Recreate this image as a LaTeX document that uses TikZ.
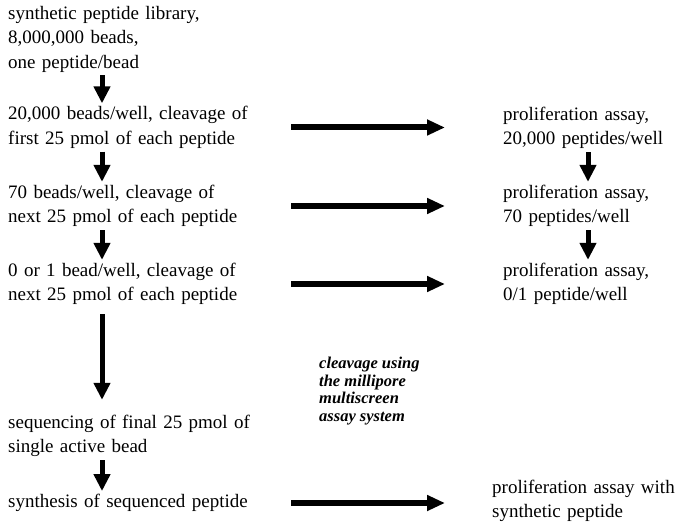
\documentclass[tikz,border=0pt]{standalone}
\usepackage{fontspec}
\setmainfont{Liberation Serif}
\usetikzlibrary{arrows.meta}
\begin{document}
\begin{tikzpicture}[x=1pt,y=-1pt,
  lbox/.style={anchor=west,align=left,text width=260pt,inner xsep=0pt,inner ysep=3pt,font=\fontsize{19}{24.5}\selectfont},
  rbox/.style={anchor=west,align=left,text width=190pt,inner xsep=0pt,inner ysep=3pt,font=\fontsize{19}{24.5}\selectfont},
  note/.style={anchor=west,align=left,inner sep=0pt,font=\fontsize{16.5}{17.8}\selectfont\bfseries\itshape},
  varrow/.style={line width=5pt,-{Triangle[length=17pt,width=16pt]}},
  harrow/.style={line width=6pt,-{Triangle[length=18pt,width=15pt]}}]
\useasboundingbox (0,0) rectangle (690,526);
\coordinate (ax) at (102,0);
\coordinate (rx) at (588,0);
\node[lbox] (b1) at (8,39) {synthetic peptide library,\\8,000,000 beads,\\one peptide/bead};
\node[lbox] (b2) at (8,127.5) {20,000 beads/well, cleavage of\\first 25 pmol of each peptide};
\node[lbox] (b3) at (8,206) {70 beads/well, cleavage of\\next 25 pmol of each peptide};
\node[lbox] (b4) at (8,284) {0 or 1 bead/well, cleavage of\\next 25 pmol of each peptide};
\node[lbox] (b5) at (8,436) {sequencing of final 25 pmol of\\single active bead};
\node[lbox] (b6) at (8,503) {synthesis of sequenced peptide};
\node[rbox] (r1) at (503,128) {proliferation assay,\\20,000 peptides/well};
\node[rbox] (r2) at (503,206) {proliferation assay,\\70 peptides/well};
\node[rbox] (r3) at (503,284) {proliferation assay,\\0/1 peptide/well};
\node[rbox] (r4) at (492,501) {proliferation assay with\\synthetic peptide};
\node[note] (n) at (319,391) {cleavage using\\the millipore\\multiscreen\\assay system};
\draw[varrow] (b1.south -| ax) -- (b2.north -| ax);
\draw[varrow] (b2.south -| ax) -- (b3.north -| ax);
\draw[varrow] (b3.south -| ax) -- (b4.north -| ax);
\draw[varrow,shorten <=6pt,shorten >=12pt] (b4.south -| ax) -- (b5.north -| ax);
\draw[varrow] (b5.south -| ax) -- (b6.north -| ax);
\draw[varrow] (r1.south -| rx) -- (r2.north -| rx);
\draw[varrow] (r2.south -| rx) -- (r3.north -| rx);
\draw[harrow,shorten <=23pt,shorten >=58pt] (b2.east) -- (b2.east -| r1.west);
\draw[harrow,shorten <=23pt,shorten >=58pt] (b3.east) -- (b3.east -| r2.west);
\draw[harrow,shorten <=23pt,shorten >=58pt] (b4.east) -- (b4.east -| r3.west);
\draw[harrow,shorten <=23pt,shorten >=47pt] (b6.east) -- (b6.east -| r4.west);
\end{tikzpicture}
\end{document}
